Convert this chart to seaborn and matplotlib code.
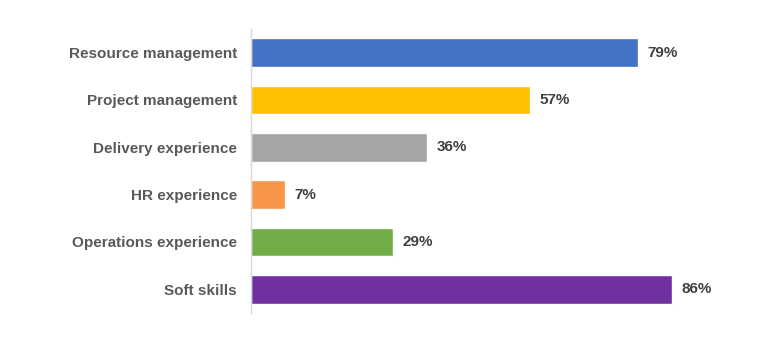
import matplotlib
matplotlib.use("Agg")
import matplotlib.pyplot as plt
import seaborn as sns
import pandas as pd

categories = ["Resource management", "Project management", "Delivery experience",
              "HR experience", "Operations experience", "Soft skills"]
values = [79, 57, 36, 7, 29, 86]
colors = ["#4472C4", "#FFC000", "#A5A5A5", "#F79646", "#70AD47", "#7030A0"]

sns.set_theme(style="white")
plt.rcParams["font.family"] = ["Liberation Sans", "DejaVu Sans"]

df = pd.DataFrame({"category": categories, "value": values})

fig = plt.figure(figsize=(7.7, 3.47), dpi=100)
ax = fig.add_axes([251 / 770, 1 - 313 / 347, 490 / 770, 284 / 347])

sns.barplot(data=df, x="value", y="category", hue="category", palette=colors,
            order=categories, legend=False, width=0.6, saturation=1, ax=ax)

ax.set_xlim(0, 100)
ax.set_ylim(5.5, -0.5)
ax.set_xlabel("")
ax.set_ylabel("")
ax.set_xticks([])
for side in ["top", "right", "bottom"]:
    ax.spines[side].set_visible(False)
ax.spines["left"].set_color("#D9D9D9")
ax.spines["left"].set_linewidth(1)
ax.tick_params(axis="y", length=0, pad=10)
for lbl in ax.get_yticklabels():
    lbl.set_fontweight("bold")
    lbl.set_fontsize(11)
    lbl.set_color("#595959")

for i, v in enumerate(values):
    ax.annotate(f"{v}%", xy=(v, i), xytext=(6.5, 0), textcoords="offset points",
                va="center", ha="left", fontsize=11, fontweight="bold",
                color="#404040")

fig.savefig("out.png", dpi=100)
